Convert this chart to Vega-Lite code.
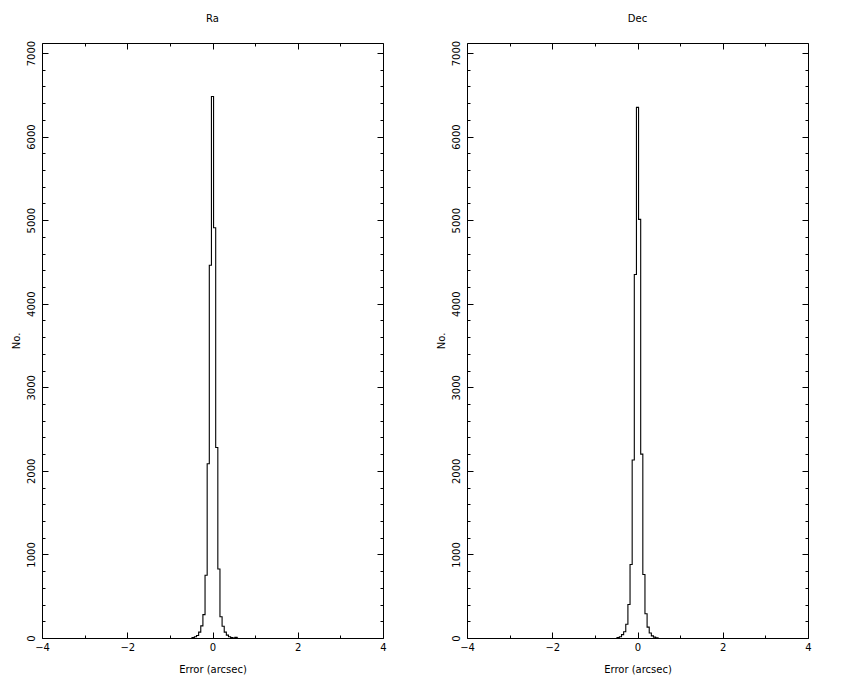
{
  "$schema": "https://vega.github.io/schema/vega-lite/v6.json",
  "background": "white",
  "padding": {"left": 10, "top": 13, "right": 40, "bottom": 5},
  "bounds": "flush",
  "spacing": 84,
  "config": {
    "font": "DejaVu Sans",
    "view": {"stroke": "black", "strokeWidth": 1},
    "title": {"fontSize": 10, "fontWeight": "normal", "font": "DejaVu Sans", "color": "black", "offset": 16, "anchor": "middle"},
    "axis": {
      "labelFont": "DejaVu Sans", "labelFontSize": 10, "labelColor": "black",
      "titleFont": "DejaVu Sans", "titleFontSize": 10, "titleFontWeight": "normal", "titleColor": "black",
      "domain": false, "grid": false, "tickColor": "black", "tickWidth": 1,
      "labelFlush": false, "labelOverlap": false
    }
  },
  "datasets": {
    "ra": [
      {"x": -0.5, "n": 0}, {"x": -0.45, "n": 5}, {"x": -0.4, "n": 15}, {"x": -0.35, "n": 30},
      {"x": -0.3, "n": 70}, {"x": -0.25, "n": 145}, {"x": -0.2, "n": 280}, {"x": -0.15, "n": 750},
      {"x": -0.1, "n": 2085}, {"x": -0.05, "n": 4460}, {"x": 0, "n": 6480}, {"x": 0.05, "n": 4910},
      {"x": 0.1, "n": 2280}, {"x": 0.15, "n": 825}, {"x": 0.2, "n": 255}, {"x": 0.25, "n": 140},
      {"x": 0.3, "n": 70}, {"x": 0.35, "n": 35}, {"x": 0.4, "n": 15}, {"x": 0.45, "n": 5},
      {"x": 0.5, "n": 0}, {"x": 0.55, "n": 8}, {"x": 0.6, "n": 0}
    ],
    "dec": [
      {"x": -0.5, "n": 0}, {"x": -0.45, "n": 5}, {"x": -0.4, "n": 15}, {"x": -0.35, "n": 40},
      {"x": -0.3, "n": 75}, {"x": -0.25, "n": 165}, {"x": -0.2, "n": 400}, {"x": -0.15, "n": 880},
      {"x": -0.1, "n": 2130}, {"x": -0.05, "n": 4350}, {"x": 0, "n": 6350}, {"x": 0.05, "n": 5010},
      {"x": 0.1, "n": 2200}, {"x": 0.15, "n": 760}, {"x": 0.2, "n": 290}, {"x": 0.25, "n": 130},
      {"x": 0.3, "n": 60}, {"x": 0.35, "n": 25}, {"x": 0.4, "n": 10}, {"x": 0.45, "n": 3},
      {"x": 0.5, "n": 0}
    ]
  },
  "hconcat": [
    {
      "title": "Ra",
      "width": 341, "height": 595,
      "data": {"name": "ra"},
      "resolve": {"axis": {"x": "independent", "y": "independent"}},
      "layer": [
        {
          "mark": {"type": "line", "interpolate": "step", "color": "black", "strokeWidth": 1.1},
          "encoding": {
            "x": {"field": "x", "type": "quantitative", "scale": {"domain": [-4, 4], "nice": false, "zero": false},
                  "axis": {"orient": "bottom", "values": [-4, -2, 0, 2, 4], "format": "d", "tickSize": -6, "labelPadding": 10, "title": "Error (arcsec)", "titlePadding": 12}},
            "y": {"field": "n", "type": "quantitative", "scale": {"domain": [0, 7120], "nice": false},
                  "axis": {"orient": "left", "values": [0, 1000, 2000, 3000, 4000, 5000, 6000, 7000], "format": "d", "tickSize": -6, "labelPadding": 11.5, "labelAngle": -90, "labelAlign": "center", "labelBaseline": "bottom", "title": "No.", "titlePadding": 5.5}}
          }
        },
        {
          "mark": {"type": "line", "opacity": 0},
          "encoding": {
            "x": {"field": "x", "type": "quantitative", "axis": {"orient": "top", "values": [-4, -2, 0, 2, 4], "tickSize": -6, "labels": false, "title": null}},
            "y": {"field": "n", "type": "quantitative", "axis": {"orient": "right", "values": [0, 1000, 2000, 3000, 4000, 5000, 6000, 7000], "tickSize": -6, "labels": false, "title": null}}
          }
        },
        {
          "mark": {"type": "line", "opacity": 0},
          "encoding": {
            "x": {"field": "x", "type": "quantitative", "axis": {"orient": "bottom", "values": [-3, -1, 1, 3], "tickSize": -3, "labels": false, "title": null}},
            "y": {"field": "n", "type": "quantitative", "axis": {"orient": "left", "values": [200, 400, 600, 800, 1200, 1400, 1600, 1800, 2200, 2400, 2600, 2800, 3200, 3400, 3600, 3800, 4200, 4400, 4600, 4800, 5200, 5400, 5600, 5800, 6200, 6400, 6600, 6800], "tickSize": -3, "labels": false, "title": null}}
          }
        },
        {
          "mark": {"type": "line", "opacity": 0},
          "encoding": {
            "x": {"field": "x", "type": "quantitative", "axis": {"orient": "top", "values": [-3, -1, 1, 3], "tickSize": -3, "labels": false, "title": null}},
            "y": {"field": "n", "type": "quantitative", "axis": {"orient": "right", "values": [200, 400, 600, 800, 1200, 1400, 1600, 1800, 2200, 2400, 2600, 2800, 3200, 3400, 3600, 3800, 4200, 4400, 4600, 4800, 5200, 5400, 5600, 5800, 6200, 6400, 6600, 6800], "tickSize": -3, "labels": false, "title": null}}
          }
        }
      ]
    },
    {
      "title": "Dec",
      "width": 341, "height": 595,
      "data": {"name": "dec"},
      "resolve": {"axis": {"x": "independent", "y": "independent"}},
      "layer": [
        {
          "mark": {"type": "line", "interpolate": "step", "color": "black", "strokeWidth": 1.1},
          "encoding": {
            "x": {"field": "x", "type": "quantitative", "scale": {"domain": [-4, 4], "nice": false, "zero": false},
                  "axis": {"orient": "bottom", "values": [-4, -2, 0, 2, 4], "format": "d", "tickSize": -6, "labelPadding": 10, "title": "Error (arcsec)", "titlePadding": 12}},
            "y": {"field": "n", "type": "quantitative", "scale": {"domain": [0, 7120], "nice": false},
                  "axis": {"orient": "left", "values": [0, 1000, 2000, 3000, 4000, 5000, 6000, 7000], "format": "d", "tickSize": -6, "labelPadding": 11.5, "labelAngle": -90, "labelAlign": "center", "labelBaseline": "bottom", "title": "No.", "titlePadding": 5.5}}
          }
        },
        {
          "mark": {"type": "line", "opacity": 0},
          "encoding": {
            "x": {"field": "x", "type": "quantitative", "axis": {"orient": "top", "values": [-4, -2, 0, 2, 4], "tickSize": -6, "labels": false, "title": null}},
            "y": {"field": "n", "type": "quantitative", "axis": {"orient": "right", "values": [0, 1000, 2000, 3000, 4000, 5000, 6000, 7000], "tickSize": -6, "labels": false, "title": null}}
          }
        },
        {
          "mark": {"type": "line", "opacity": 0},
          "encoding": {
            "x": {"field": "x", "type": "quantitative", "axis": {"orient": "bottom", "values": [-3, -1, 1, 3], "tickSize": -3, "labels": false, "title": null}},
            "y": {"field": "n", "type": "quantitative", "axis": {"orient": "left", "values": [200, 400, 600, 800, 1200, 1400, 1600, 1800, 2200, 2400, 2600, 2800, 3200, 3400, 3600, 3800, 4200, 4400, 4600, 4800, 5200, 5400, 5600, 5800, 6200, 6400, 6600, 6800], "tickSize": -3, "labels": false, "title": null}}
          }
        },
        {
          "mark": {"type": "line", "opacity": 0},
          "encoding": {
            "x": {"field": "x", "type": "quantitative", "axis": {"orient": "top", "values": [-3, -1, 1, 3], "tickSize": -3, "labels": false, "title": null}},
            "y": {"field": "n", "type": "quantitative", "axis": {"orient": "right", "values": [200, 400, 600, 800, 1200, 1400, 1600, 1800, 2200, 2400, 2600, 2800, 3200, 3400, 3600, 3800, 4200, 4400, 4600, 4800, 5200, 5400, 5600, 5800, 6200, 6400, 6600, 6800], "tickSize": -3, "labels": false, "title": null}}
          }
        }
      ]
    }
  ]
}
